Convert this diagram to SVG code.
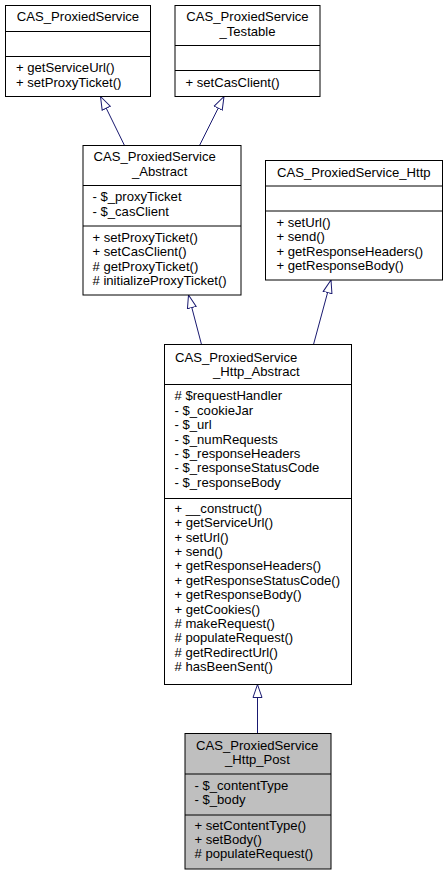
<svg xmlns="http://www.w3.org/2000/svg" width="448" height="875" viewBox="0 0 448 875">
<style>
  .box { fill: #ffffff; stroke: #000000; stroke-width: 1; }
  .cur { fill: #bfbfbf; stroke: #000000; stroke-width: 1; }
  .sep { stroke: #000000; stroke-width: 1; }
  text { font-family: "Liberation Sans", Arial, Helvetica, sans-serif; font-size: 13.1px; fill: #000000; }
  .c { text-anchor: middle; }
  .edge { stroke: #191970; stroke-width: 1; fill: none; marker-end: url(#inh); }
</style>
<defs>
  <marker id="inh" markerUnits="userSpaceOnUse" markerWidth="15" markerHeight="11" refX="13.5" refY="5" orient="auto" viewBox="0 0 15 10">
    <path d="M0.5,0.5 L13.5,5 L0.5,9.5 Z" fill="#ffffff" stroke="#191970" stroke-width="1"/>
  </marker>
</defs>
<rect width="448" height="875" fill="#ffffff"/>

<g id="edges">
  <line class="edge" x1="124.5" y1="145.5" x2="100.5" y2="96.5"/>
  <line class="edge" x1="199.5" y1="145.5" x2="224" y2="96.5"/>
  <line class="edge" x1="201.5" y1="344.5" x2="188.5" y2="295"/>
  <line class="edge" x1="313.5" y1="344.5" x2="331" y2="280"/>
  <line class="edge" x1="257.5" y1="733" x2="257.5" y2="684.5"/>
</g>

<g id="CAS_ProxiedService">
  <rect class="box" x="5.5" y="5.5" width="145" height="91"/>
  <line class="sep" x1="5.5" y1="31.5" x2="150.5" y2="31.5"/>
  <line class="sep" x1="5.5" y1="56.5" x2="150.5" y2="56.5"/>
  <text class="c" x="78" y="21">CAS_ProxiedService</text>
  <text x="16" y="72">+ getServiceUrl()</text>
  <text x="16" y="86.5">+ setProxyTicket()</text>
</g>

<g id="CAS_ProxiedService_Testable">
  <rect class="box" x="175" y="5.5" width="145" height="91"/>
  <line class="sep" x1="175" y1="45.5" x2="320" y2="45.5"/>
  <line class="sep" x1="175" y1="70.5" x2="320" y2="70.5"/>
  <text class="c" x="247.5" y="21">CAS_ProxiedService</text>
  <text class="c" x="247.5" y="36">_Testable</text>
  <text x="185.5" y="86.5">+ setCasClient()</text>
</g>

<g id="CAS_ProxiedService_Abstract">
  <rect class="box" x="83" y="145.5" width="158" height="149.5"/>
  <line class="sep" x1="83" y1="185.5" x2="241" y2="185.5"/>
  <line class="sep" x1="83" y1="226" x2="241" y2="226"/>
  <text x="93.5" y="161">CAS_ProxiedService</text>
  <text x="132" y="175.5">_Abstract</text>
  <text x="92.5" y="201">- $_proxyTicket</text>
  <text x="92.5" y="215.5">- $_casClient</text>
  <text x="92.5" y="241.5">+ setProxyTicket()</text>
  <text x="92.5" y="256">+ setCasClient()</text>
  <text x="92.5" y="270.5">&#35; getProxyTicket()</text>
  <text x="92.5" y="285">&#35; initializeProxyTicket()</text>
</g>

<g id="CAS_ProxiedService_Http">
  <rect class="box" x="265.5" y="160.5" width="177" height="119.5"/>
  <line class="sep" x1="265.5" y1="186" x2="442.5" y2="186"/>
  <line class="sep" x1="265.5" y1="211" x2="442.5" y2="211"/>
  <text x="277" y="176.5">CAS_ProxiedService_Http</text>
  <text x="276.5" y="226.5">+ setUrl()</text>
  <text x="276.5" y="241">+ send()</text>
  <text x="276.5" y="255.5">+ getResponseHeaders()</text>
  <text x="276.5" y="270">+ getResponseBody()</text>
</g>

<g id="CAS_ProxiedService_Http_Abstract">
  <rect class="box" x="164.5" y="344.5" width="187" height="340"/>
  <line class="sep" x1="164.5" y1="384.5" x2="351.5" y2="384.5"/>
  <line class="sep" x1="164.5" y1="498.5" x2="351.5" y2="498.5"/>
  <text x="175" y="361.5">CAS_ProxiedService</text>
  <text x="213" y="376">_Http_Abstract</text>
  <text x="174.5" y="400">&#35; $requestHandler</text>
  <text x="174.5" y="414.5">- $_cookieJar</text>
  <text x="174.5" y="429">- $_url</text>
  <text x="174.5" y="443.5">- $_numRequests</text>
  <text x="174.5" y="457.5">- $_responseHeaders</text>
  <text x="174.5" y="472">- $_responseStatusCode</text>
  <text x="174.5" y="486.5">- $_responseBody</text>
  <text x="174.5" y="512.5">+ __construct()</text>
  <text x="174.5" y="527">+ getServiceUrl()</text>
  <text x="174.5" y="541.5">+ setUrl()</text>
  <text x="174.5" y="556">+ send()</text>
  <text x="174.5" y="570">+ getResponseHeaders()</text>
  <text x="174.5" y="584.5">+ getResponseStatusCode()</text>
  <text x="174.5" y="599">+ getResponseBody()</text>
  <text x="174.5" y="613.5">+ getCookies()</text>
  <text x="174.5" y="628">&#35; makeRequest()</text>
  <text x="174.5" y="642">&#35; populateRequest()</text>
  <text x="174.5" y="656.5">&#35; getRedirectUrl()</text>
  <text x="174.5" y="671">&#35; hasBeenSent()</text>
</g>

<g id="CAS_ProxiedService_Http_Post">
  <rect class="cur" x="185" y="733.5" width="146" height="135.5"/>
  <line class="sep" x1="185" y1="774" x2="331" y2="774"/>
  <line class="sep" x1="185" y1="815" x2="331" y2="815"/>
  <text x="196" y="749.5">CAS_ProxiedService</text>
  <text x="225" y="764">_Http_Post</text>
  <text x="194.5" y="790">- $_contentType</text>
  <text x="194.5" y="804">- $_body</text>
  <text x="194.5" y="829.5">+ setContentType()</text>
  <text x="194.5" y="844">+ setBody()</text>
  <text x="194.5" y="858">&#35; populateRequest()</text>
</g>
</svg>
